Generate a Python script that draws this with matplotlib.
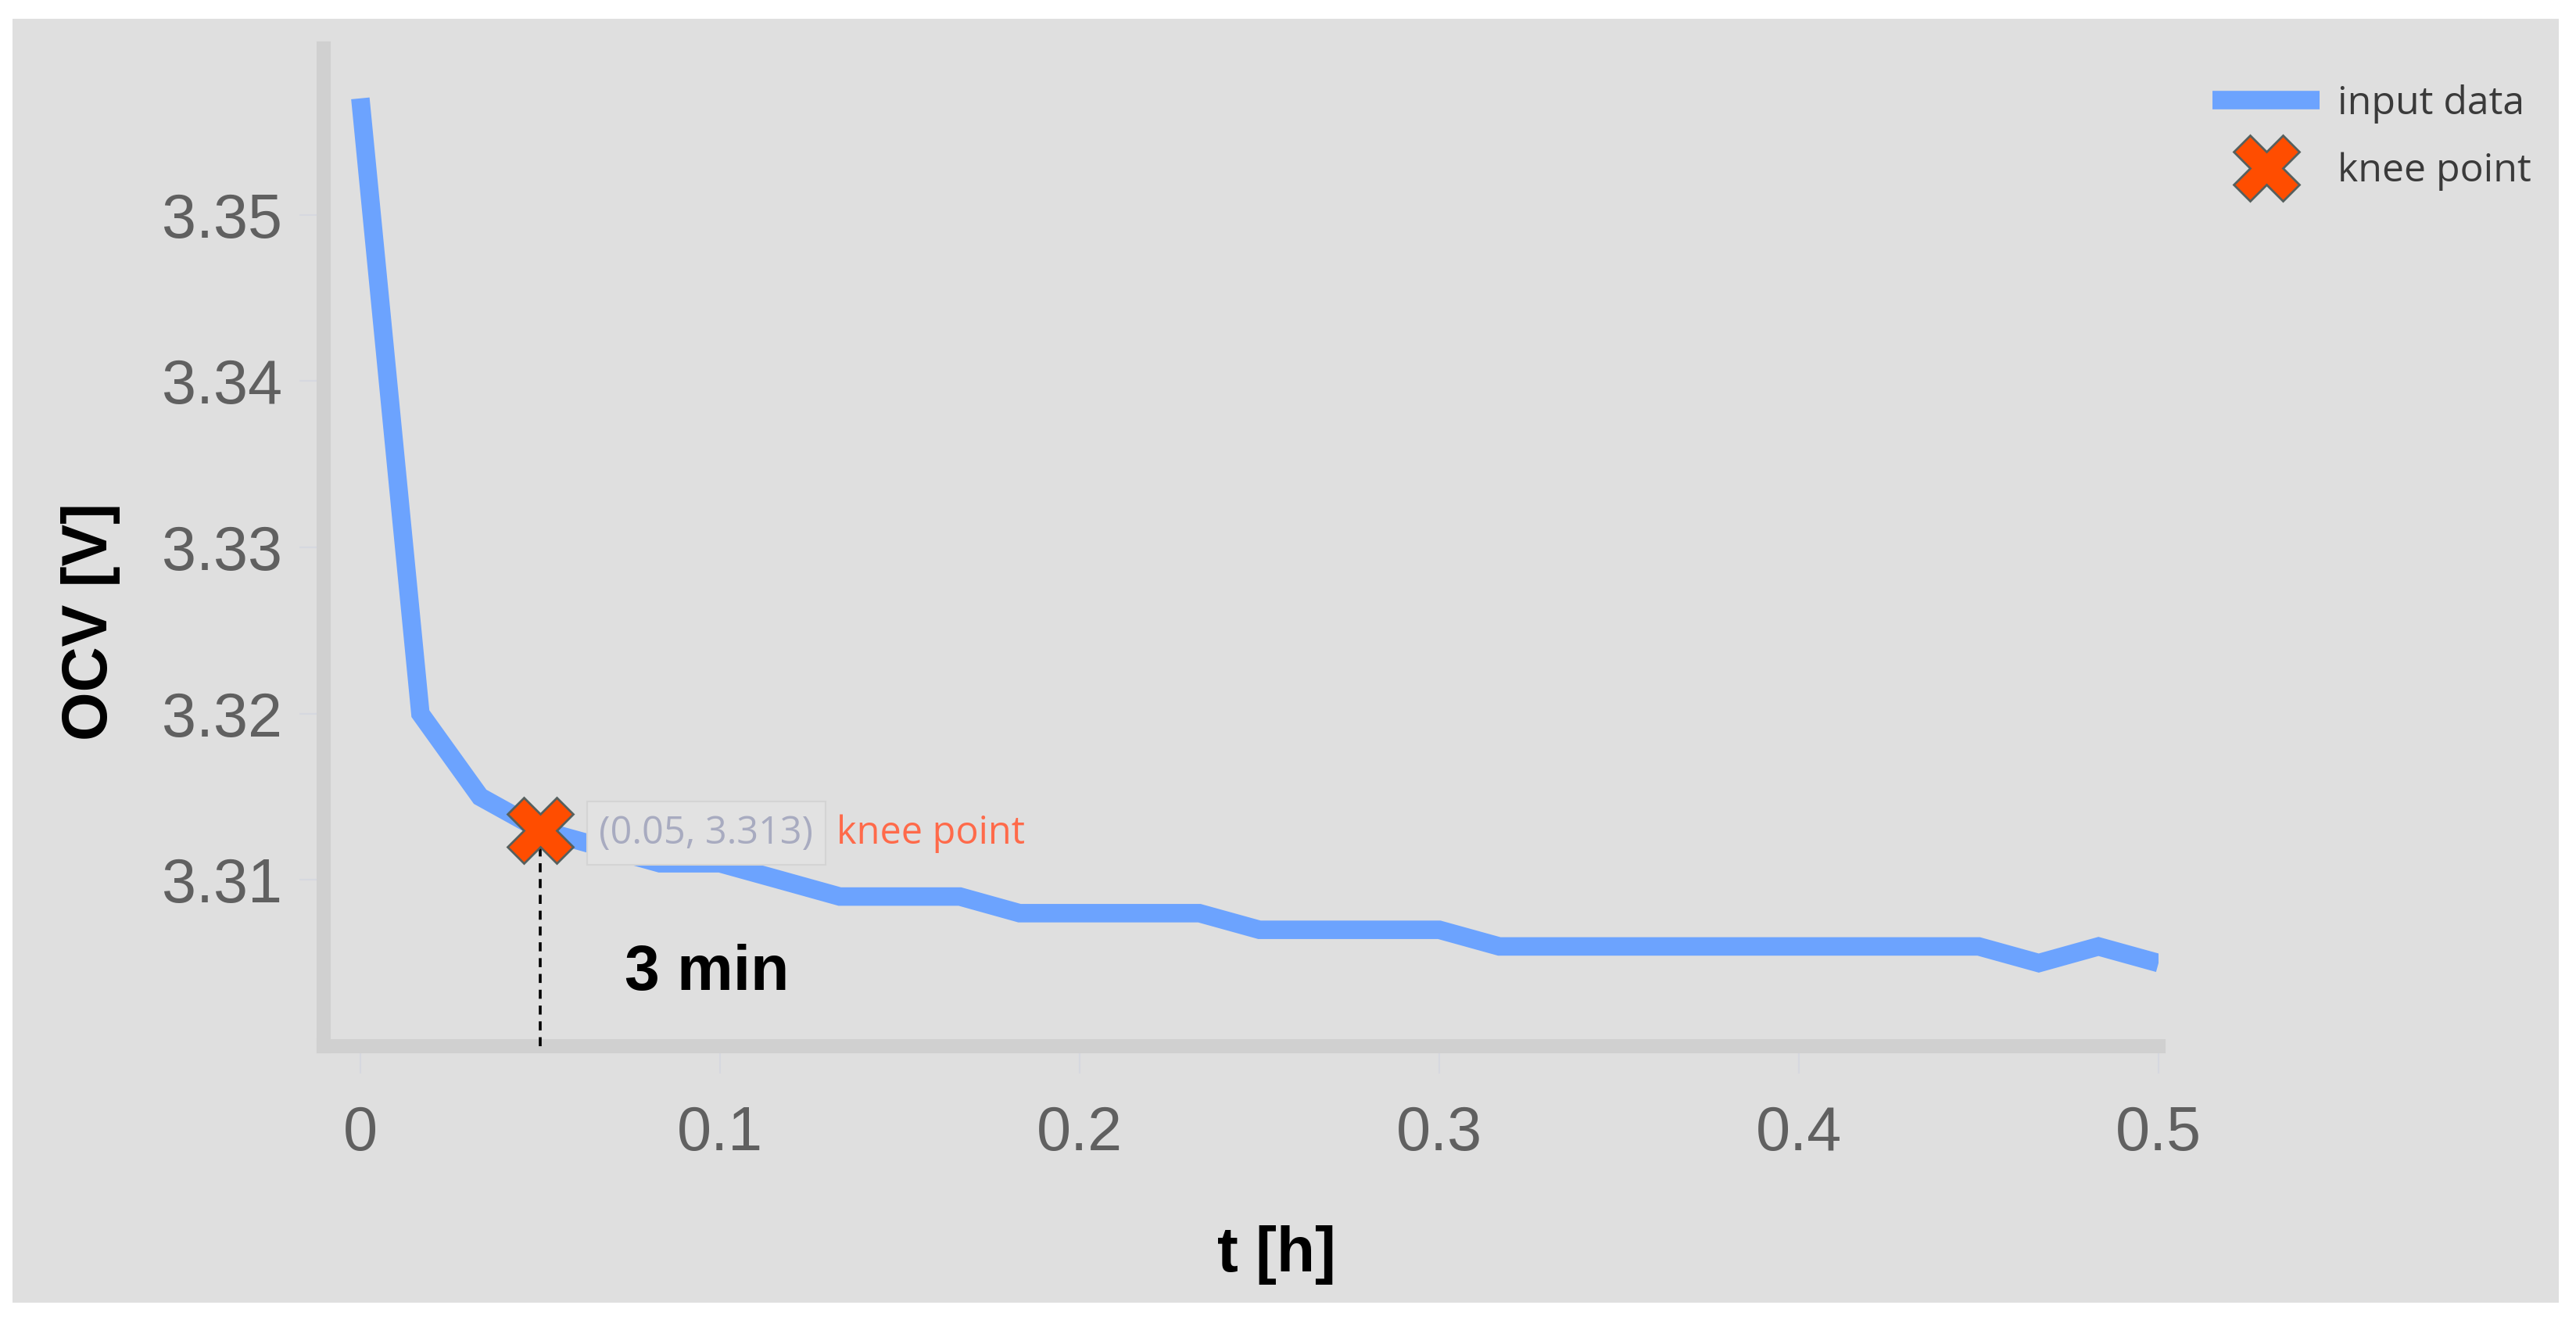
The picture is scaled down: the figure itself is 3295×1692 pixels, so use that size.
import matplotlib
matplotlib.use("Agg")
import matplotlib.pyplot as plt
from matplotlib.patches import Rectangle

# ---------------- data ----------------
t_hours = [0.0, 0.0167, 0.0333, 0.05, 0.0667, 0.0833, 0.1, 0.1167, 0.1333, 0.15,
           0.1667, 0.1833, 0.2, 0.2167, 0.2333, 0.25, 0.2667, 0.2833, 0.3, 0.3167,
           0.3333, 0.35, 0.3667, 0.3833, 0.4, 0.4167, 0.4333, 0.45, 0.4667, 0.4833, 0.5]
ocv_volts = [3.357, 3.320, 3.315, 3.313, 3.312, 3.311, 3.311, 3.310, 3.309, 3.309,
             3.309, 3.308, 3.308, 3.308, 3.308, 3.307, 3.307, 3.307, 3.307, 3.306,
             3.306, 3.306, 3.306, 3.306, 3.306, 3.306, 3.306, 3.306, 3.305, 3.306, 3.305]
knee_t = [0.05]
knee_v = [3.313]
x_ticks = [0, 0.1, 0.2, 0.3, 0.4, 0.5]
x_tick_labels = ["0", "0.1", "0.2", "0.3", "0.4", "0.5"]
y_ticks = [3.31, 3.32, 3.33, 3.34, 3.35]
y_tick_labels = ["3.31", "3.32", "3.33", "3.34", "3.35"]
series_labels = ["input data", "knee point"]
knee_text = "(0.05, 3.313)"
knee_label = "knee point"
duration_text = "3 min"
x_label = "t [h]"
y_label = "OCV [V]"

# ---------------- figure ----------------
W, H, DPI = 3295, 1692, 100
fig = plt.figure(figsize=(W / DPI, H / DPI), dpi=DPI, facecolor="white")
BG = "#dfdfdf"
fig.patches.append(Rectangle((16 / W, 1 - 1666 / H), (3273 - 16) / W, (1666 - 24) / H,
                             transform=fig.transFigure, facecolor=BG, edgecolor="none", zorder=-5))

ax_l, ax_r, ax_t, ax_b = 414, 2761, 62, 1338
ax = fig.add_axes([ax_l / W, 1 - ax_b / H, (ax_r - ax_l) / W, (ax_b - ax_t) / H])
ax.set_facecolor(BG)
ax.patch.set_alpha(0)

line_color = "#6ca3fe"
marker_color = "#ff4d00"

ax.plot(t_hours, ocv_volts, color=line_color, lw=17, solid_joinstyle="miter",
        solid_capstyle="butt", label=series_labels[0], zorder=3)
ax.plot([knee_t[0], knee_t[0]], [3.30, knee_v[0]], color="black", lw=2.6,
        dashes=(3.2, 2.4), zorder=3.5)
ax.plot(knee_t, knee_v, linestyle="none", marker="X", markersize=60,
        markerfacecolor=marker_color, markeredgecolor="#56605e", markeredgewidth=2,
        label=series_labels[1], zorder=5)

ax.set_xlim(-0.0102, 0.5)
ax.set_ylim(3.30, 3.36)

for s in ["top", "right"]:
    ax.spines[s].set_visible(False)
for s in ["left", "bottom"]:
    ax.spines[s].set_color("#d0d0d0")
    ax.spines[s].set_linewidth(13)

tick_font = dict(family=["Liberation Sans", "DejaVu Sans"], size=57)
ax.set_xticks(x_ticks)
ax.set_xticklabels(x_tick_labels, fontdict=tick_font, color="#606060")
ax.set_yticks(y_ticks)
ax.set_yticklabels(y_tick_labels, fontdict=tick_font, color="#606060")
ax.tick_params(axis="x", direction="out", length=25, width=1.5, color="#d6d8df", pad=29)
ax.tick_params(axis="y", direction="out", length=22, width=1.5, color="#d6d8df", pad=16)

bold = dict(family=["Liberation Sans", "DejaVu Sans"], size=58, weight="bold", color="black")
fig.text(116 / W, 1 - 795 / H, y_label, rotation=90, ha="center", va="center", **bold)
fig.text(1633 / W, 1 - 1605 / H, x_label, ha="center", va="center", **bold)

ax.text(0.0734, 3.3034, duration_text, ha="left", va="baseline", **bold, zorder=6)

small = dict(family=["Open Sans", "DejaVu Sans"], size=35)
ax.text(0.0664, 3.3128, knee_text, ha="left", va="center", color="#a8abc0", zorder=6,
        bbox=dict(boxstyle="square,pad=0.32", facecolor="#e2e2e2", edgecolor="#d4d4d4", lw=1.5),
        **small)
ax.text(0.1323, 3.3128, knee_label, ha="left", va="center", color="#ff6a4a", zorder=6, **small)

leg = ax.legend(loc="upper left", bbox_to_anchor=(2830 / W, 1 - 108 / H),
                bbox_transform=fig.transFigure, frameon=False, borderpad=0, borderaxespad=0,
                handlelength=2.74, handletextpad=0.46, labelspacing=0.74,
                prop=dict(family=["Open Sans", "DejaVu Sans"], size=36))
for txt in leg.get_texts():
    txt.set_color("#3a3a3a")

fig.savefig("out.png", dpi=DPI, facecolor="white")
